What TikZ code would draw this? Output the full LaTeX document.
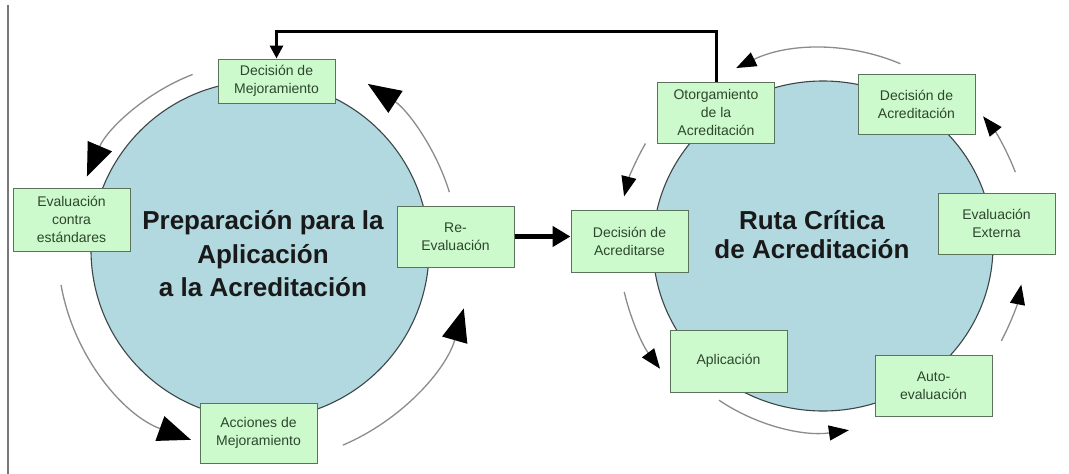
\documentclass[tikz,border=0pt]{standalone}
\usepackage{fontspec}
\setmainfont{Liberation Sans}
\usetikzlibrary{arrows.meta,shapes.geometric}
\definecolor{boxfill}{RGB}{204,250,204}
\definecolor{boxline}{RGB}{90,115,90}
\definecolor{boxtext}{RGB}{45,70,45}
\definecolor{circfill}{RGB}{178,216,224}
\definecolor{circline}{RGB}{60,70,70}
\definecolor{arcgray}{RGB}{140,140,140}
\definecolor{framegray}{RGB}{120,120,120}
\begin{document}
\begin{tikzpicture}[x=1pt,y=-1pt,
  stepbox/.style={draw=boxline, line width=1pt, fill=boxfill, minimum width=117pt,
    minimum height=61pt, inner sep=1pt, align=center, text=boxtext,
    font=\fontsize{14}{18}\selectfont},
  bigcirc/.style={ellipse, draw=circline, line width=1.1pt, fill=circfill, inner sep=0pt},
  bigtitle/.style={anchor=base, font=\fontsize{26}{30}\selectfont\bfseries, text=black!90},
  cyc/.style={draw=arcgray, line width=1.3pt},
  bighead/.style={-{Triangle[length=33pt,width=26pt,color=black]}},
  smallhead/.style={-{Triangle[length=20pt,width=15pt,color=black]}},
  fwdlink/.style={draw=black, line width=5pt, -{Triangle[length=18pt,width=20pt]}},
  backlink/.style={draw=black, line width=3pt, -{Triangle[length=13pt,width=13pt]}},
]
\useasboundingbox (0,0) rectangle (1069,474);
\fill[white] (0,0) rectangle (1069,474);
\draw[framegray, line width=1.3pt] (8,5) -- (8,474);

% circles
\node[bigcirc, minimum width=338pt, minimum height=338pt] (lc) at (260,250) {};
\node[bigcirc, minimum width=340pt, minimum height=330pt] (rc) at (823,246) {};

% titles
\node[bigtitle] (lt1) at (263,229) {Preparación para la};
\node[bigtitle] (lt2) at (263,263) {Aplicación};
\node[bigtitle] (lt3) at (263,296) {a la Acreditación};
\node[bigtitle] (rt1) at (812,229) {Ruta Crítica};
\node[bigtitle] (rt2) at (812,258) {de Acreditación};

% left cycle boxes
\node[stepbox, minimum height=44pt] (decmej) at (276.5,81) {Decisión de\\Mejoramiento};
\node[stepbox, minimum height=63pt] (evalc) at (71.5,219.5) {Evaluación\\contra\\estándares};
\node[stepbox] (reeval) at (455.5,236.5) {Re-\\Evaluación};
\node[stepbox, minimum height=60pt] (acciones) at (258.5,433) {Acciones de\\Mejoramiento};

% right cycle boxes
\node[stepbox] (otor) at (716,112.5) {Otorgamiento\\de la\\Acreditación};
\node[stepbox, minimum height=60pt] (decacr) at (916.5,104) {Decisión de\\Acreditación};
\node[stepbox] (evalext) at (996.5,223.5) {Evaluación\\Externa};
\node[stepbox, minimum height=62pt] (decacrse) at (629.5,241) {Decisión de\\Acreditarse};
\node[stepbox, minimum height=62pt] (aplic) at (728.5,361) {Aplicación};
\node[stepbox] (autoev) at (933.5,385.5) {Auto-\\evaluación};

% left cycle arrows
\draw[cyc,bighead] (lc.center) ++(-111:188) arc[start angle=-111,end angle=-157,radius=188];
\draw[cyc,bighead] (lc.center) ++(-190:202) arc[start angle=-190,end angle=-250,radius=202];
\draw[cyc,bighead] (lc.center) ++(-293:212) arc[start angle=-293,end angle=-344,radius=212];
\draw[cyc,bighead] (lc.center) ++(-17:198) arc[start angle=-17,end angle=-57,radius=198];

% right cycle arrows
\draw[cyc,smallhead] (rc.center) ++(-67:198) arc[start angle=-67,end angle=-116,radius=198];
\draw[cyc,smallhead] (rc.center) ++(-150:205) arc[start angle=-150,end angle=-166,radius=205];
\draw[cyc,smallhead] (rc.center) ++(-193:204) arc[start angle=-193,end angle=-217,radius=204];
\draw[cyc,smallhead] (rc.center) ++(-236:186) arc[start angle=-236,end angle=-278,radius=186];
\draw[cyc,smallhead] (rc.center) ++(-332:202) arc[start angle=-332,end angle=-349,radius=202];
\draw[cyc,smallhead] (rc.center) ++(-21:206) arc[start angle=-21,end angle=-39,radius=206];

% links between the cycles
\draw[fwdlink] (reeval.east) -- (reeval.east -| decacrse.west);
\coordinate (fbtop) at (0,31);
\draw[backlink] (otor.north) -- (otor.north |- fbtop) -- (decmej.north |- fbtop) -- (decmej.north);
\end{tikzpicture}
\end{document}
